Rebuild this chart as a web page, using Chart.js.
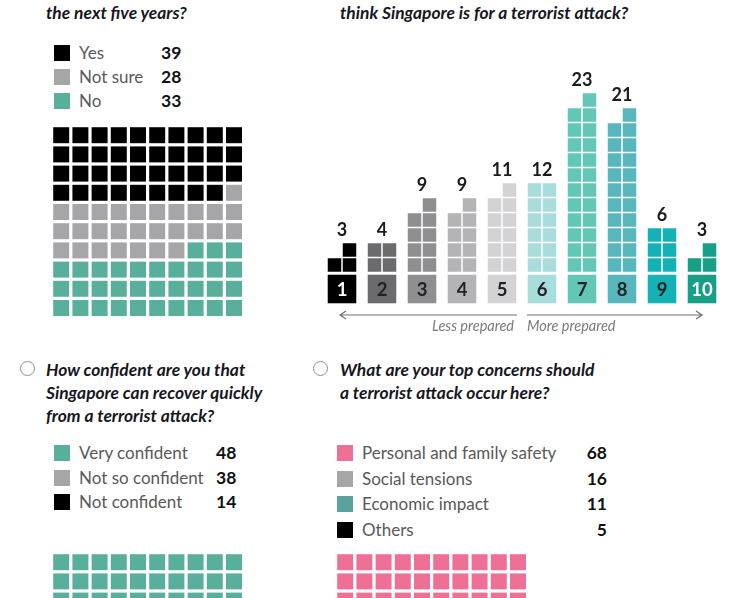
<!DOCTYPE html>
<html>
<head>
<meta charset="utf-8">
<script src="https://cdn.jsdelivr.net/npm/chart.js@4.4.1/dist/chart.umd.min.js"></script>
<style>
  body { margin: 0; width: 747px; height: 598px; overflow: hidden; background: #fff; position: relative; font-family: Lato, sans-serif; }
  .q { position: absolute; font: italic 700 17.4px/23px Lato, sans-serif; color: #17171f; white-space: nowrap; }
  .ring { position: absolute; width: 13px; height: 13px; border: 1.8px solid #8f8f8f; border-radius: 50%; }
  .row { position: absolute; height: 20px; white-space: nowrap; font-size: 17px; color: #59595b; }
  .sw { position: absolute; width: 16px; height: 16px; top: 2px; left: 0; }
  .lab { position: absolute; top: 0; line-height: 20px; }
  .num { position: absolute; top: 0; line-height: 20px; font-weight: 700; font-size: 17.5px; color: #111; }
  canvas { position: absolute; }
</style>
</head>
<body>
<div class="q" style="left:46px;top:1px">the next five years?</div>
<div class="q" style="left:340px;top:1px">think Singapore is for a terrorist attack?</div>

<div class="ring" style="left:20px;top:361px"></div>
<div class="q" style="left:46px;top:358px">How confident are you that<br>Singapore can recover quickly<br>from a terrorist attack?</div>
<div class="ring" style="left:313px;top:361px"></div>
<div class="q" style="left:340px;top:358px">What are your top concerns should<br>a terrorist attack occur here?</div>

<canvas id="waffle1" width="230" height="230" style="left:42px;top:116px"></canvas>
<canvas id="ready" width="420" height="300" style="left:310px;top:40px"></canvas>
<canvas id="waffle3" width="230" height="230" style="left:42px;top:543px"></canvas>
<canvas id="waffle4" width="230" height="230" style="left:326px;top:543px"></canvas>

<script>
// Q: attack in the next five years?
const q1Labels = ["Yes", "Not sure", "No"];
const q1Values = [39, 28, 33];

// Q: how prepared is Singapore (1-10)
const readyScores = ["1", "2", "3", "4", "5", "6", "7", "8", "9", "10"];
const readyValues = [3, 4, 9, 9, 11, 12, 23, 21, 6, 3];

// Q: recover quickly?
const q3Labels = ["Very confident", "Not so confident", "Not confident"];
const q3Values = [48, 38, 14];

// Q: top concerns
const q4Labels = ["Personal and family safety", "Social tensions", "Economic impact", "Others"];
const q4Values = [68, 16, 11, 5];

const teal = "#58b09c";
const grey = "#a6a6a8";
const q1Colors = ["#000000", grey, teal];
const q3Colors = [teal, grey, "#000000"];
const q4Colors = ["#ef7095", grey, "#5aa39d", "#000000"];
const readyColors = ["#000000", "#6b6b6d", "#8f8f91", "#b4b4b6", "#d3d3d5",
                     "#a9dcdc", "#63c7b8", "#57b7bc", "#14b2b4", "#199f88"];
const readyText = ["#fff", "#222", "#222", "#222", "#222", "#222", "#222", "#222", "#222", "#fff"];

function legend(left, top, pitch, labels, values, colors, numX, rightAlign) {
  labels.forEach((l, i) => {
    const row = document.createElement("div");
    row.className = "row";
    row.style.left = left + "px";
    row.style.top = (top + i * pitch) + "px";
    const num = rightAlign
      ? `<span class="num" style="left:${numX - 40}px;width:40px;text-align:right">${values[i]}</span>`
      : `<span class="num" style="left:${numX}px">${values[i]}</span>`;
    row.innerHTML = `<span class="sw" style="background:${colors[i]}"></span>` +
      `<span class="lab" style="left:25px">${l}</span>` + num;
    document.body.appendChild(row);
  });
}

legend(54, 43, 24, q1Labels, q1Values, q1Colors, 107, false);
legend(54, 443, 24.5, q3Labels, q3Values, q3Colors, 162, false);
legend(337, 443, 25.7, q4Labels, q4Values, q4Colors, 270, true);

const noFx = {
  responsive: false,
  animation: false,
  events: [],
  layout: { padding: 0, autoPadding: false },
  plugins: { legend: { display: false }, tooltip: { enabled: false } },
};

// 10x10 waffle, filled row by row from the top
function waffle(id, values, colors) {
  const pts = [], bg = [];
  let i = 0;
  values.forEach((v, k) => {
    for (let n = 0; n < v; n++) {
      pts.push({ x: i % 10, y: Math.floor(i / 10) });
      bg.push(colors[k]);
      i++;
    }
  });
  const cv = document.getElementById(id);
  const cell = 19.2;
  new Chart(cv, {
    type: "scatter",
    data: { datasets: [{ data: pts, pointStyle: "rect", pointRadius: 11.3,
      pointBackgroundColor: bg, pointBorderWidth: 0 }] },
    options: {
      ...noFx,
      scales: {
        x: { type: "linear", display: false, min: -1, max: -1 + cv.width / cell },
        y: { type: "linear", display: false, reverse: true, min: -1, max: -1 + cv.height / cell },
      },
    },
  });
}

waffle("waffle1", q1Values, q1Colors);
waffle("waffle3", q3Values, q3Colors);
waffle("waffle4", q4Values, q4Colors);

// stacked squares, two per row, odd one on the right
const squares = [], sqColors = [], boxes = [];
readyValues.forEach((v, c) => {
  const right = Math.ceil(v / 2), left = Math.floor(v / 2);
  for (let r = 0; r < left; r++) { squares.push({ x: c - 0.1875, y: r }); sqColors.push(readyColors[c]); }
  for (let r = 0; r < right; r++) { squares.push({ x: c + 0.1875, y: r }); sqColors.push(readyColors[c]); }
  boxes.push({ x: c, y: -1.6 });
});

const scoreText = {
  id: "scoreText",
  afterDatasetsDraw(chart) {
    const { ctx, scales: { x, y } } = chart;
    ctx.save();
    ctx.textAlign = "center";
    readyValues.forEach((v, i) => {
      const cx = x.getPixelForValue(i);
      ctx.font = "700 18.5px Lato";
      ctx.textBaseline = "middle";
      ctx.fillStyle = readyText[i];
      ctx.fillText(readyScores[i], cx, y.getPixelForValue(-1.6) + 1);
      const top = y.getPixelForValue(Math.ceil(v / 2) - 1) - 6.75;
      ctx.font = "700 18px Lato";
      ctx.textBaseline = "alphabetic";
      ctx.fillStyle = "#1b1b1b";
      ctx.fillText(String(v), cx, top - 7);
    });

    // scale arrows
    const ay = 275;
    ctx.strokeStyle = "#707070";
    ctx.lineWidth = 1.2;
    ctx.beginPath();
    ctx.moveTo(30, ay); ctx.lineTo(207, ay);
    ctx.moveTo(36, ay - 4); ctx.lineTo(30, ay); ctx.lineTo(36, ay + 4);
    ctx.moveTo(217, ay); ctx.lineTo(392, ay);
    ctx.moveTo(386, ay - 4); ctx.lineTo(392, ay); ctx.lineTo(386, ay + 4);
    ctx.stroke();
    ctx.font = "italic 14.5px Lato";
    ctx.fillStyle = "#7c7c7c";
    ctx.textAlign = "right";
    ctx.fillText("Less prepared", 204, 291);
    ctx.textAlign = "left";
    ctx.fillText("More prepared", 217, 291);
    ctx.restore();
  },
};

new Chart(document.getElementById("ready"), {
  type: "scatter",
  data: {
    labels: readyScores,
    datasets: [
      { data: squares, pointStyle: "rect", pointRadius: 9.55, pointBackgroundColor: sqColors, pointBorderWidth: 0 },
      { data: boxes, pointStyle: "rect", pointRadius: 20.2, pointBackgroundColor: readyColors, pointBorderWidth: 0 },
    ],
  },
  options: {
    ...noFx,
    scales: {
      x: { type: "linear", display: false, min: -0.8, max: 9.7 },
      y: { type: "linear", display: false, min: -5, max: 15 },
    },
  },
  plugins: [scoreText],
});
</script>
</body>
</html>
